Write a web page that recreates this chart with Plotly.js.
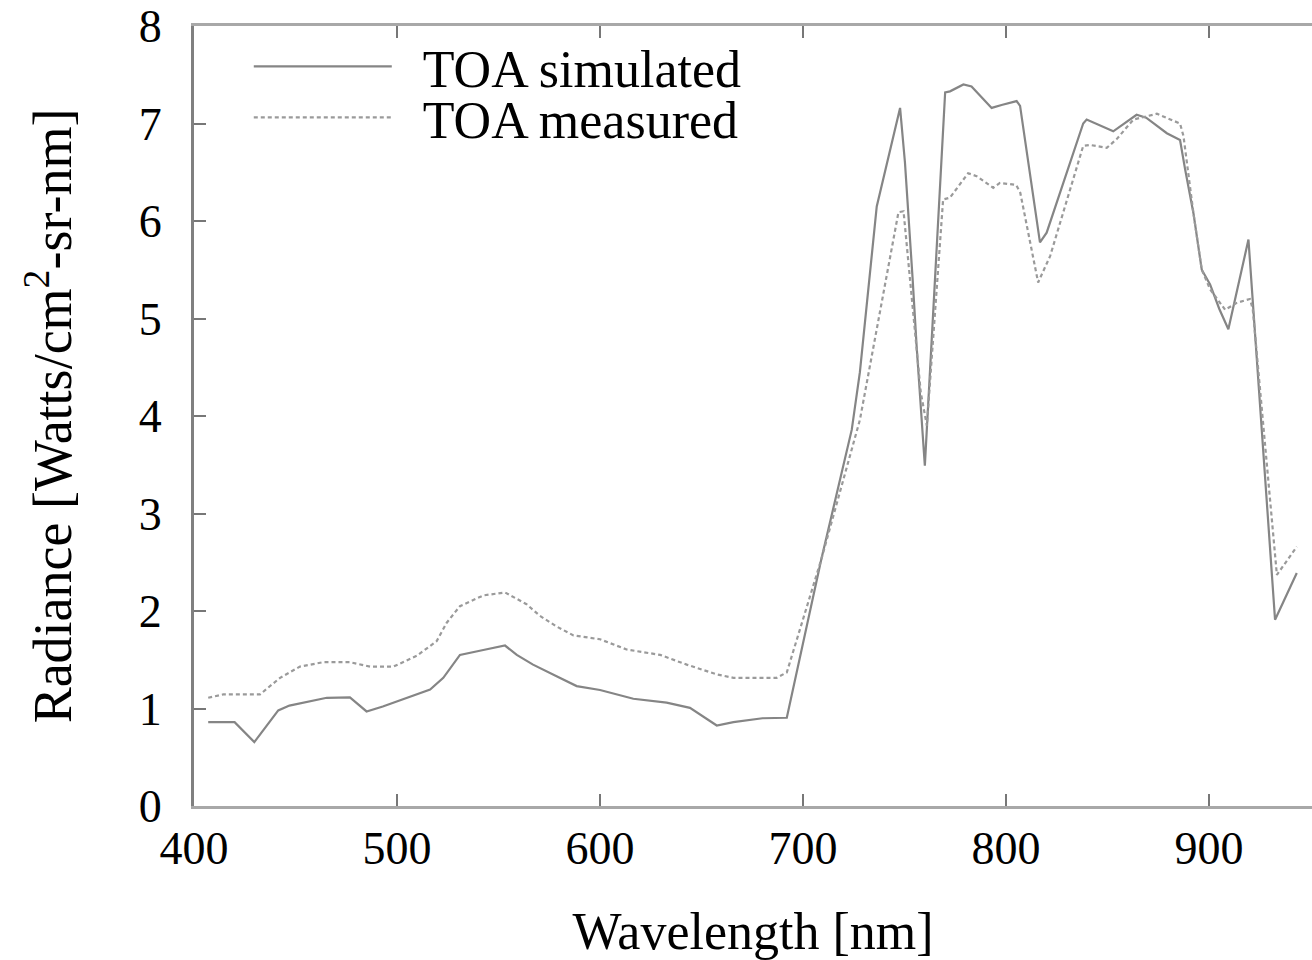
<!DOCTYPE html>
<html>
<head>
<meta charset="utf-8">
<script src="https://cdn.plot.ly/plotly-3.0.1.min.js"></script>
<style>html,body{margin:0;padding:0;background:#fff;}#chart{width:1312px;height:960px;}</style>
</head>
<body>
<div id="chart"></div>
<script>
// TOA simulated (solid)
var wlSim = [407, 420, 429.7, 441.5, 447, 455.5, 465.4, 476.8, 485, 493, 504.8, 516.3, 522.8, 531, 542.5, 553.2, 559, 567, 578.6, 588.5, 600, 616.4, 632.8, 644.3, 657.5, 665.7, 680, 692,
  709, 724, 728, 736.3, 747.8, 750.2, 754, 756, 760, 770, 772.4, 779, 783, 792.9, 797.8, 805.2, 806.9, 816.7, 820, 838, 839.7, 852.8, 864.3, 869, 879.2, 885.7, 888.2, 892.3, 896.4, 900.5, 905, 909.5, 919.4, 921.5, 932.5, 943.2];
var radSim = [0.86, 0.86, 0.655, 0.98, 1.03, 1.065, 1.11, 1.115, 0.97, 1.02, 1.11, 1.195, 1.315, 1.55, 1.6, 1.646, 1.55, 1.45, 1.33, 1.23, 1.19, 1.10, 1.06, 1.007, 0.826, 0.86, 0.9, 0.905,
  2.53, 3.86, 4.45, 6.15, 7.16, 6.6, 5.4, 4.7, 3.49, 7.32, 7.33, 7.40, 7.38, 7.16, 7.19, 7.23, 7.18, 5.78, 5.88, 7.0, 7.04, 6.92, 7.09, 7.06, 6.9, 6.83, 6.53, 6.08, 5.5, 5.35, 5.1, 4.89, 5.81, 5.2, 1.91, 2.39];

// TOA measured (dashed)
var wlMeas = [407, 414.4, 432.5, 442.4, 452.2, 463.7, 476.8, 486.7, 498.2, 509.7, 519.5, 524.5, 531, 542.5, 553.2, 563.8, 570.4, 578.7, 586.9, 600, 613.1, 629.6, 642.7, 657.5, 665.7, 687, 692,
  709, 728, 747, 749.5, 758, 761, 769, 772.4, 781.3, 785.5, 793.7, 797, 805, 807, 815.8, 821.7, 838, 841.4, 849.6, 854.5, 862.7, 874.3, 885.7, 887.4, 892.3, 896.4, 900.5, 907.9, 913.6, 920.1, 921.5, 933.4, 943.2];
var radMeas = [1.11, 1.144, 1.144, 1.315, 1.43, 1.475, 1.475, 1.43, 1.43, 1.54, 1.69, 1.88, 2.05, 2.16, 2.19, 2.07, 1.95, 1.84, 1.75, 1.71, 1.605, 1.55, 1.45, 1.35, 1.315, 1.315, 1.37,
  2.53, 3.96, 6.09, 6.1, 4.24, 3.9, 6.22, 6.24, 6.49, 6.46, 6.34, 6.39, 6.37, 6.29, 5.37, 5.64, 6.77, 6.78, 6.75, 6.84, 7.04, 7.1, 7.0, 6.87, 6.08, 5.5, 5.3, 5.09, 5.16, 5.2, 5.1, 2.37, 2.66];

var seriesNames = ['TOA simulated', 'TOA measured'];
var xTicks = [400, 500, 600, 700, 800, 900];
var yTicks = [0, 1, 2, 3, 4, 5, 6, 7, 8];

var serif = "Liberation Serif, Times New Roman, serif";
var NB = '\u00a0';

var traces = [
  {x: wlSim, y: radSim, type: 'scatter', mode: 'lines', name: NB + NB + seriesNames[0], legend: 'legend',
   line: {color: '#858585', width: 2.2}},
  {x: wlMeas, y: radMeas, type: 'scatter', mode: 'lines', name: NB + NB + seriesNames[1], legend: 'legend2',
   line: {color: '#9a9a9a', width: 2.2, dash: '4px,3px'}}
];

var legFont = {family: serif, size: 52, color: '#000'};
var layout = {
  width: 1312, height: 960,
  margin: {l: 194, r: 0, t: 26, b: 154},
  paper_bgcolor: '#fff', plot_bgcolor: '#fff',
  showlegend: true,
  legend: {x: 0.049, y: 1.0, xanchor: 'left', yanchor: 'top', bgcolor: 'rgba(0,0,0,0)',
           font: legFont, itemwidth: 138},
  legend2: {x: 0.049, y: 0.9345, xanchor: 'left', yanchor: 'top', bgcolor: 'rgba(0,0,0,0)',
           font: legFont, itemwidth: 138},
  xaxis: {
    range: [400, 950.7], tickvals: xTicks, ticktext: xTicks.map(String),
    showgrid: false, zeroline: false,
    showline: true, linecolor: '#a8a8a8', linewidth: 3, mirror: 'ticks',
    ticks: 'inside', ticklen: 12, tickwidth: 2, tickcolor: '#777',
    tickfont: {family: serif, size: 46, color: '#000'},
    title: {text: NB + NB + 'Wavelength [nm]', font: {family: serif, size: 52, color: '#000'}, standoff: 40}
  },
  yaxis: {
    range: [0, 8], tickvals: yTicks, ticktext: yTicks.map(String),
    showgrid: false, zeroline: false,
    showline: true, linecolor: '#808080', linewidth: 3, mirror: false,
    ticks: 'inside', ticklen: 12, tickwidth: 2, tickcolor: '#777',
    ticklabelstandoff: 20,
    tickfont: {family: serif, size: 46, color: '#000'},
    title: {text: NB + NB + NB + 'Radiance [Watts/cm<sup>2</sup>-sr-nm]', font: {family: serif, size: 54, color: '#000'}, standoff: 50}
  }
};

Plotly.newPlot('chart', traces, layout, {displayModeBar: false, staticPlot: true});
</script>
</body>
</html>
